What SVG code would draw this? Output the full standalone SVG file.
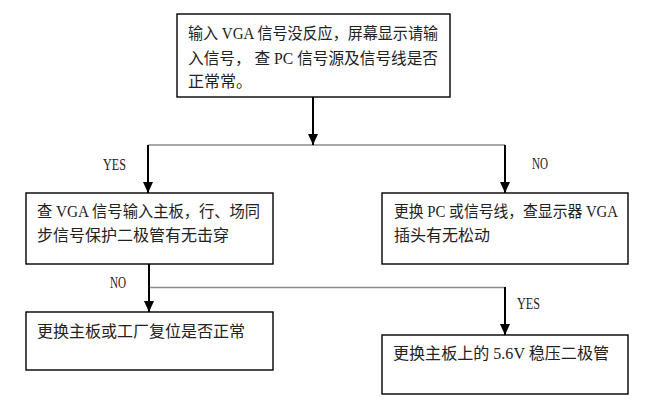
<svg xmlns="http://www.w3.org/2000/svg" width="649" height="411" viewBox="0 0 649 411">
<defs>
<marker id="arr" markerUnits="userSpaceOnUse" markerWidth="12" markerHeight="12" viewBox="0 0 12 12" refX="11" refY="6" orient="auto">
<path d="M0,1 L11,6 L0,11 Z" fill="#000"/>
</marker>
</defs>
<style>
.box{fill:#fff;stroke:#000;stroke-width:1.4}
.t{font-family:"Liberation Serif","Noto Sans CJK SC",serif;font-size:16px;fill:#222}
.lbl{font-family:"Liberation Serif",serif;font-size:16px;fill:#222}
.v{stroke:#000;stroke-width:2;fill:none}
.h{stroke:#8a8a8a;stroke-width:1.6;fill:none}
</style>
<rect width="649" height="411" fill="#fff"/>
<g id="connectors">
<line class="h" x1="148" y1="145" x2="505" y2="145"/>
<line class="h" x1="149" y1="287.5" x2="505" y2="287.5"/>
<line class="v" x1="313" y1="97" x2="313" y2="145" marker-end="url(#arr)"/>
<line class="v" x1="148" y1="145" x2="148" y2="193" marker-end="url(#arr)"/>
<line class="v" x1="505" y1="145" x2="505" y2="193" marker-end="url(#arr)"/>
<line class="v" x1="149" y1="264" x2="149" y2="312" marker-end="url(#arr)"/>
<line class="v" x1="505" y1="287" x2="505" y2="335" marker-end="url(#arr)"/>
<text class="lbl" x="103" y="169.5" textLength="23" lengthAdjust="spacingAndGlyphs">YES</text>
<text class="lbl" x="532" y="168.5" textLength="16" lengthAdjust="spacingAndGlyphs">NO</text>
<text class="lbl" x="110" y="287.5" textLength="16" lengthAdjust="spacingAndGlyphs">NO</text>
<text class="lbl" x="517" y="308.5" textLength="23" lengthAdjust="spacingAndGlyphs">YES</text>
</g>
<g id="n1">
<rect class="box" x="177" y="14" width="273" height="83"/>
<text class="t" x="188" y="39" textLength="250" lengthAdjust="spacingAndGlyphs">输入 VGA 信号没反应，屏幕显示请输</text>
<text class="t" x="188" y="63.5" textLength="250" lengthAdjust="spacingAndGlyphs">入信号， 查 PC 信号源及信号线是否</text>
<text class="t" x="188" y="87">正常常。</text>
</g>
<g id="n2">
<rect class="box" x="26" y="193" width="247" height="71"/>
<text class="t" x="37" y="217" textLength="223" lengthAdjust="spacingAndGlyphs">查 VGA 信号输入主板，行、场同</text>
<text class="t" x="37" y="241">步信号保护二极管有无击穿</text>
</g>
<g id="n3">
<rect class="box" x="382" y="193" width="246" height="71"/>
<text class="t" x="394" y="217" textLength="224" lengthAdjust="spacingAndGlyphs">更换 PC 或信号线，查显示器 VGA</text>
<text class="t" x="394" y="241">插头有无松动</text>
</g>
<g id="n4">
<rect class="box" x="26" y="312" width="247" height="58"/>
<text class="t" x="37" y="337">更换主板或工厂复位是否正常</text>
</g>
<g id="n5">
<rect class="box" x="382" y="335" width="246" height="59"/>
<text class="t" x="393" y="359" textLength="216" lengthAdjust="spacingAndGlyphs">更换主板上的 5.6V 稳压二极管</text>
</g>
</svg>
